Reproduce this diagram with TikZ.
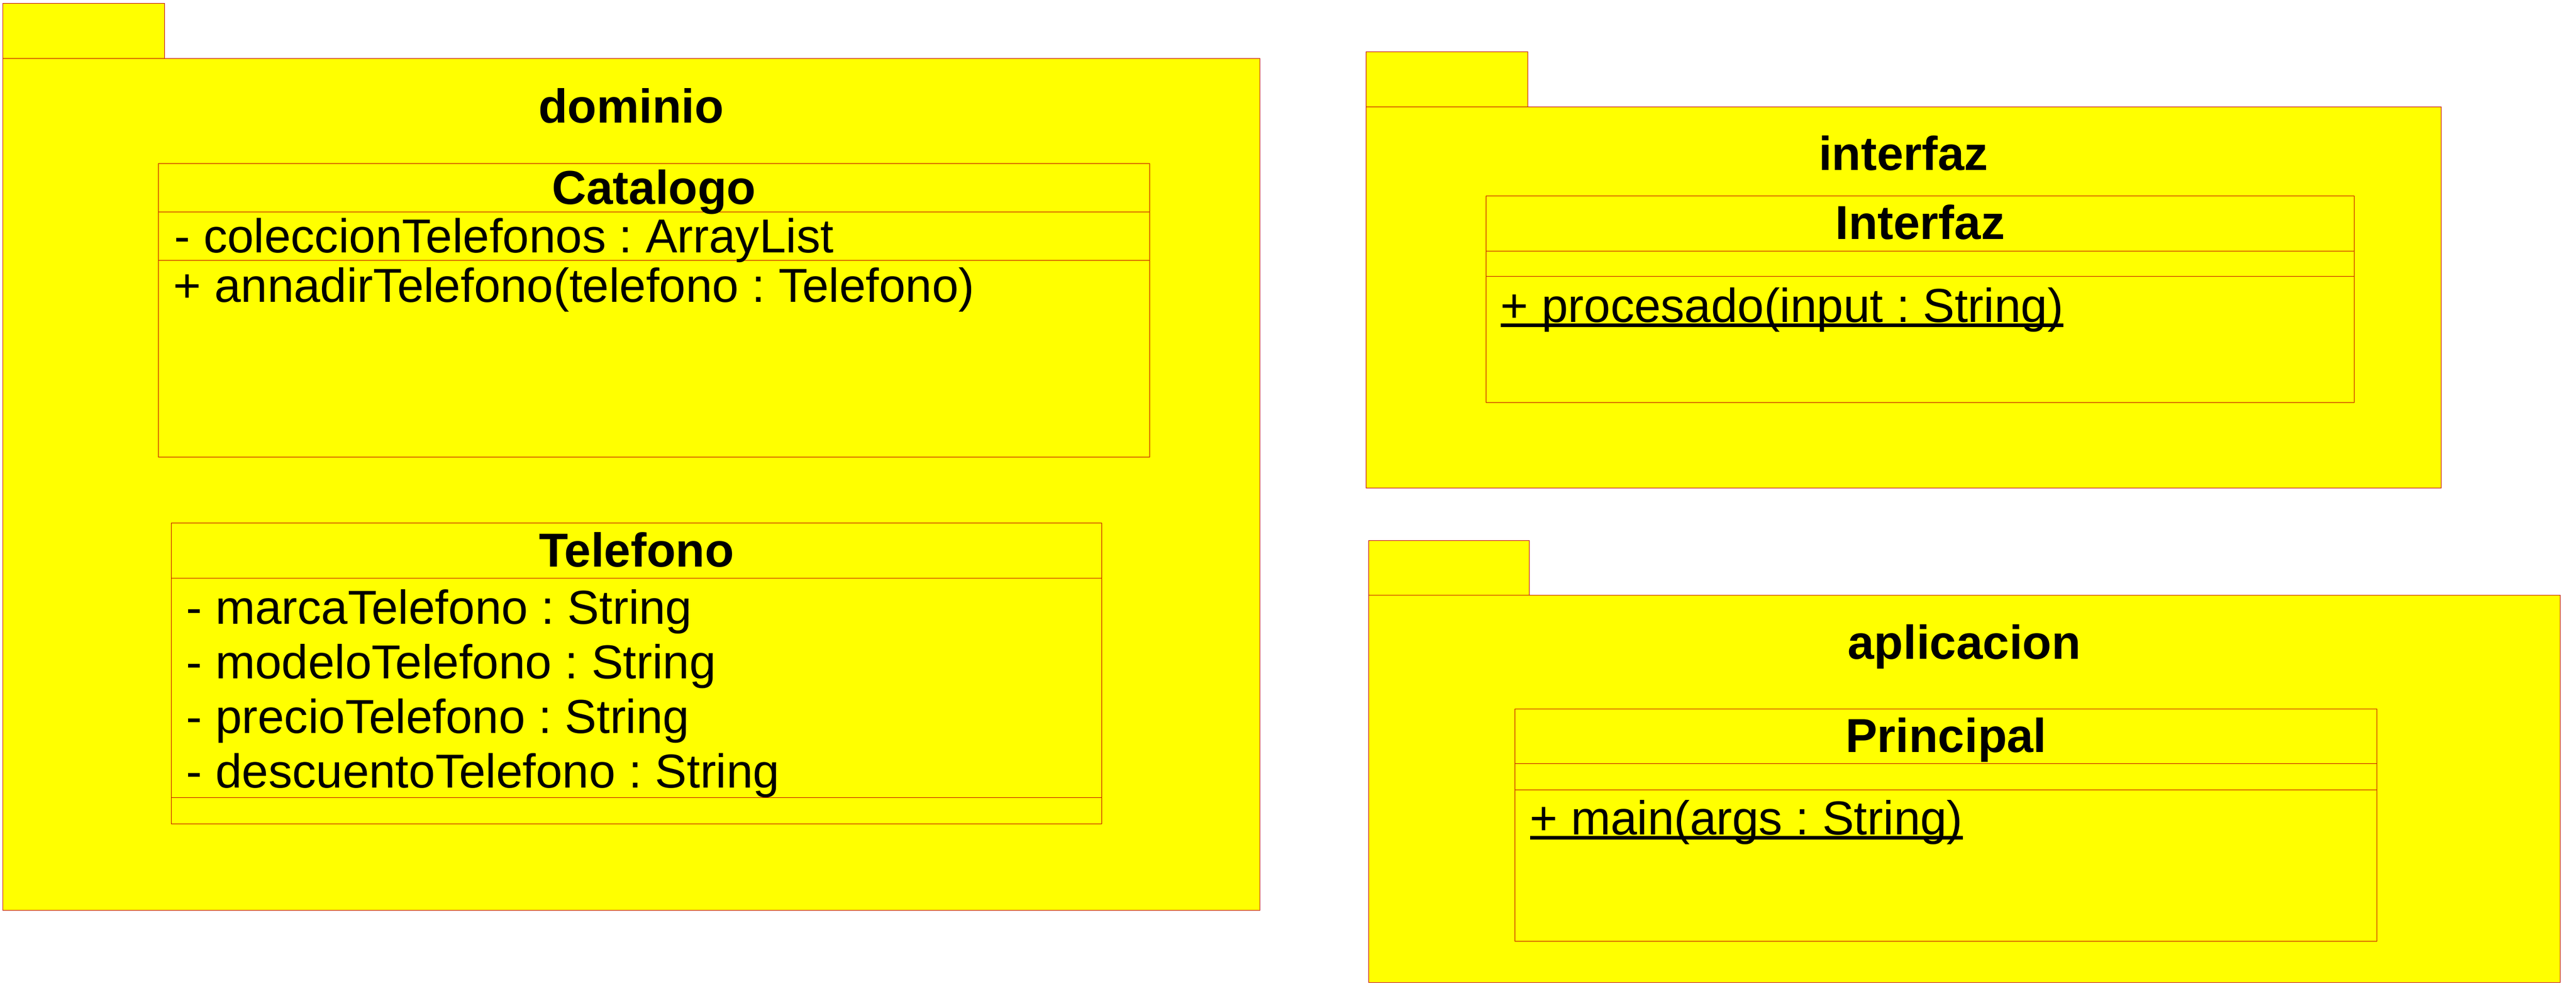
\documentclass[tikz,border=0pt]{standalone}
\usepackage{fontspec}
\setmainfont{Liberation Sans}
\usepackage{tikz}
\usetikzlibrary{positioning}
\definecolor{umlyellow}{RGB}{255,255,0}
\definecolor{umlred}{RGB}{190,0,0}
\newcommand{\umlul}[1]{\setbox0\hbox{#1}\rlap{\rule[-0.15cm]{\wd0}{0.1cm}}\box0}
\frenchspacing

\begin{document}
\begin{tikzpicture}[y=-1cm, pkg/.style={draw=umlred,fill=umlyellow,line width=0.4pt},
                    sep/.style={draw=umlred,line width=0.4pt},
                    txt/.style={inner sep=0pt,font=\fontsize{41.7}{48}\selectfont},
                    ttl/.style={txt,anchor=base,font=\fontsize{41.7}{48}\selectfont\bfseries}]
                      \useasboundingbox (0,0) rectangle (79.25,30.49);

                      % dominio
                      \draw[pkg] (0.09,0.10) rectangle (5.07,1.80);
                      \draw[pkg] (0.09,1.80) rectangle (38.76,28.02);
                      \node[ttl] (dominio) at (19.42,3.78) {dominio};

                      \draw[pkg] (4.88,5.03) rectangle (35.37,14.07);
                      \draw[sep] (4.88,6.52) -- (35.37,6.52);
                      \draw[sep] (4.88,8.01) -- (35.37,8.01);
                      \node[ttl] (catalogo) at (20.12,6.28) {Catalogo};
                      \node[txt,anchor=base west] (colTel) at (5.36,7.78) {- coleccionTelefonos : ArrayList};
                      \node[txt,anchor=base west] (addTel) at (5.33,9.29) {+ annadirTelefono(telefono : Telefono)};

                      \draw[pkg] (5.27,16.10) rectangle (33.90,25.35);
                      \draw[sep] (5.27,17.79) -- (33.90,17.79);
                      \draw[sep] (5.27,24.55) -- (33.90,24.55);
                      \node[ttl] (telefono) at (19.58,17.45) {Telefono};
                      \node[txt,anchor=base west] (marca) at (5.73,19.20) {- marcaTelefono : String};
                      \node[txt,anchor=base west] (modelo) at (5.73,20.88) {- modeloTelefono : String};
                      \node[txt,anchor=base west] (precio) at (5.73,22.56) {- precioTelefono : String};
                      \node[txt,anchor=base west] (descuento) at (5.73,24.24) {- descuentoTelefono : String};

                      % interfaz
                      \draw[pkg] (42.02,1.59) rectangle (47.00,3.29);
                      \draw[pkg] (42.02,3.29) rectangle (75.11,15.02);
                      \node[ttl] (interfazPkg) at (58.56,5.24) {interfaz};

                      \draw[pkg] (45.71,6.03) rectangle (72.42,12.38);
                      \draw[sep] (45.71,7.72) -- (72.42,7.72);
                      \draw[sep] (45.71,8.51) -- (72.42,8.51);
                      \node[ttl] (interfaz) at (59.07,7.36) {Interfaz};
                      \node[txt,anchor=base west] (procesado) at (46.16,9.91) {\umlul{+ procesado(input : String)}};

                      % aplicacion
                      \draw[pkg] (42.10,16.63) rectangle (47.05,18.32);
                      \draw[pkg] (42.10,18.32) rectangle (78.76,30.24);
                      \node[ttl] (aplicacion) at (60.43,20.28) {aplicacion};

                      \draw[pkg] (46.61,21.81) rectangle (73.13,28.97);
                      \draw[sep] (46.61,23.50) -- (73.13,23.50);
                      \draw[sep] (46.61,24.30) -- (73.13,24.30);
                      \node[ttl] (principal) at (59.87,23.15) {Principal};
                      \node[txt,anchor=base west] (mainOp) at (47.06,25.68) {\umlul{+ main(args : String)}};
                    \end{tikzpicture}
\end{document}
